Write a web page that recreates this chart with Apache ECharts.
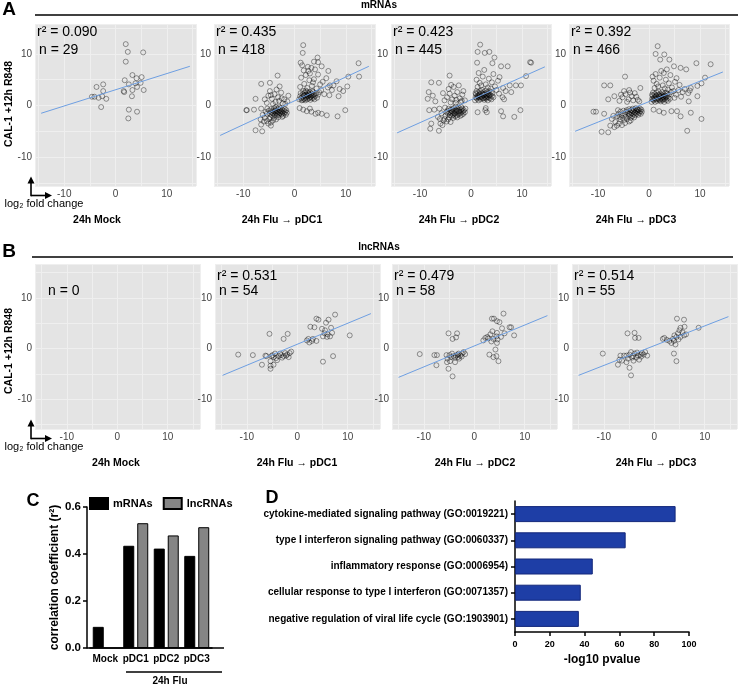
<!DOCTYPE html>
<html>
<head lang="en">
    <meta charset="UTF-8"/>
    <title>CAL-1 vs pDC fold change</title>
    <script src="https://cdn.jsdelivr.net/npm/echarts@6/dist/echarts.min.js"></script>
    <style>
        body { margin: 0; background: #fff; }
        #fig { width: 741px; height: 685px; }
    </style>
</head>
<body>
<div id="fig"></div>
<script>
    // ---- data ----
    var panelTitles = ['24h Mock', '24h Flu \u2192 pDC1', '24h Flu \u2192 pDC2', '24h Flu \u2192 pDC3'];
    var foldTicks = [-10, 0, 10];
    var mrnaR2 = [0.090, 0.435, 0.423, 0.392];
    var mrnaN = [29, 418, 445, 466];
    var lncR2 = [null, 0.531, 0.479, 0.514];
    var lncN = [0, 54, 58, 55];

    var mockMrna = [[2.0,11.9],[2.4,10.4],[5.4,10.3],[2.0,8.5],[3.3,5.9],[4.1,5.3],[5.1,5.5],[1.8,4.9],[2.6,4.1],[3.9,4.3],
        [4.9,4.4],[-2.4,4.1],[-3.7,3.6],[-2.4,2.8],[1.6,2.8],[1.7,2.6],[3.3,3.0],[4.2,3.6],[5.5,3.0],[3.2,1.8],
        [-4.6,1.7],[-4.1,1.7],[-3.3,1.5],[-2.6,1.8],[-1.8,1.3],[-2.8,-0.3],[2.6,-0.8],[4.2,-1.2],[2.5,-2.5]];

    var pdc1Mrna = [
        [1.7,11.7],[1.6,10.2],[4.5,9.3],[4.6,8.4],[1.2,8.3],[12.5,8.2],[3.3,7.3],[5.3,7.6],[6.6,6.7],[2.7,6.7],
        [10.5,5.6],[12.6,5.6],[8.2,4.7],[6.9,3.9],[10.3,3.7],[8.6,1.8],[-6.5,4.2],[-4.8,4.4],[-3.3,5.8],[-7.6,1.3],
        [-9.4,-0.9],[-9.3,-0.9],[-7.9,-0.8],[-6.5,-0.6],[-6.6,-2.7],[-6.5,-3.7],[-7.6,-4.8],[-6.3,-5.0],[-4.6,-3.9],[9.9,-0.9],
        [8.4,-2.1],[6.3,-1.9],[4.1,-1.6],[5.3,-1.6],[3.0,-0.6],[1.7,-0.8],[2.4,-1.1],[3.3,-1.2],[4.6,-1.4],[1.0,-0.5],
        [0.9,1.2],[1.1,1.8],[1.2,2.4],[1.4,1.0],[1.5,1.6],[1.6,2.2],[1.7,2.8],[1.8,1.3],[1.9,1.9],[2.0,2.5],
        [2.1,1.0],[2.2,1.5],[2.3,2.1],[2.4,2.7],[2.5,1.2],[2.6,1.8],[2.7,2.4],[2.8,1.4],[2.9,2.0],[3.0,2.6],
        [3.1,1.1],[3.2,1.7],[3.3,2.3],[3.4,1.4],[3.5,2.0],[3.6,2.6],[3.7,1.5],[3.8,2.1],[3.9,1.2],[4.0,1.8],
        [4.2,2.4],[4.4,1.5],[4.6,2.1],[1.3,1.4],[1.8,2.0],[2.3,1.7],[2.8,2.2],[3.3,1.9],[2.0,1.3],[2.5,2.0],
        [3.0,1.6],[1.6,1.1],[2.2,2.9],[3.5,2.8],[4.8,2.6],
        [1.3,5.4],[2.2,5.9],[3.0,6.2],[3.8,5.1],[4.6,6.0],[5.5,4.6],[6.2,5.3],[1.8,6.8],[2.6,7.5],[4.0,7.0],
        [5.0,4.1],[6.5,3.5],[7.3,3.0],[5.8,2.2],[6.8,2.0],[7.6,3.9],[8.8,3.2],[9.5,2.8],[2.9,4.9],[3.6,4.5],
        [1.1,3.6],[1.9,4.2],[2.5,3.4],[3.4,3.8],[4.3,3.3],[5.2,3.0],[1.5,7.8],[3.8,8.5],
        [-5.0,-1.0],[-4.8,-1.6],[-4.6,-0.7],[-4.5,-1.3],[-4.4,-1.9],[-4.2,-1.0],[-4.1,-1.6],[-4.0,-0.5],[-3.9,-1.2],[-3.8,-1.8],
        [-3.7,-0.8],[-3.6,-1.4],[-3.5,-2.0],[-3.4,-1.0],[-3.3,-1.6],[-3.2,-0.6],[-3.1,-1.2],[-3.0,-1.8],[-2.9,-0.9],[-2.8,-1.5],
        [-2.7,-0.5],[-2.6,-1.1],[-2.5,-1.7],[-2.4,-0.8],[-2.3,-1.4],[-2.2,-2.0],[-2.1,-1.0],[-2.0,-1.5],[-1.9,-0.7],[-1.8,-1.2],
        [-1.7,-1.8],[-1.6,-0.9],[-4.3,-1.4],[-3.8,-1.1],[-3.3,-1.3],[-2.8,-1.2],[-4.7,-2.3],[-4.0,-2.4],[-3.2,-2.3],[-5.3,-0.6],
        [-5.4,-1.6],[-3.0,-0.3],[-2.4,-2.2],[-1.5,-1.4],[-3.6,-0.3],
        [-4.9,-2.6],[-4.2,-2.9],[-5.4,-3.0],[-5.1,-3.5],[-4.6,-3.3],[-5.8,-2.4],[-6.0,-3.1],[-3.6,-2.7],[-5.6,-1.2],[-6.2,-1.8],
        [-5.8,1.2],[-5.1,1.9],[-4.4,1.3],[-3.9,2.2],[-3.2,1.6],[-2.6,2.5],[-2.0,1.2],[-1.4,0.8],[-4.8,2.8],[-3.5,3.1],
        [-2.9,3.7],[-3.7,0.7],[-2.3,0.4],[-5.4,0.5],[-1.2,1.9],[-4.2,0.3],[-3.0,0.9],[-2.5,1.4],[-1.8,0.3],[-4.6,2.0]];

    var pdc2Mrna = [
        [1.8,11.8],[1.3,10.4],[2.7,10.2],[3.6,10.4],[4.6,9.3],[1.2,8.3],[4.2,8.2],[5.9,7.6],[7.2,7.6],[11.6,8.4],
        [11.8,8.3],[10.8,5.7],[9.8,3.9],[8.8,3.9],[7.6,3.9],[6.3,3.4],[6.2,1.6],[6.5,1.2],[-4.2,5.8],[-7.8,4.5],
        [-6.3,4.4],[-8.3,2.6],[-7.5,1.9],[-8.5,1.3],[-7.0,0.8],[-8.2,-0.9],[-7.2,-0.8],[-6.2,-0.6],[-6.5,-2.2],[-6.0,-3.5],
        [-7.8,-3.5],[-8.0,-4.5],[-6.3,-4.9],[-5.2,-2.6],[2.9,-0.5],[2.8,-0.9],[1.3,-1.3],[3.1,-1.3],[5.9,-1.1],[6.3,-2.1],
        [8.5,-2.2],[9.7,-0.9],
        [0.8,1.0],[0.9,1.6],[1.0,2.2],[1.1,2.8],[1.2,1.3],[1.3,1.9],[1.4,2.5],[1.5,1.0],[1.6,1.6],[1.7,2.2],
        [1.8,2.8],[1.9,1.2],[2.0,1.8],[2.1,2.4],[2.2,3.0],[2.3,1.4],[2.4,2.0],[2.5,2.6],[2.6,1.1],[2.7,1.7],
        [2.8,2.3],[2.9,2.9],[3.0,1.3],[3.1,1.9],[3.2,2.5],[3.3,1.0],[3.4,1.6],[3.5,2.2],[3.6,2.8],[3.7,1.4],
        [3.8,2.0],[3.9,2.6],[4.0,1.2],[4.1,1.8],[4.2,2.4],[1.1,1.5],[1.6,2.0],[2.1,1.6],[2.6,2.1],[3.1,1.6],
        [3.6,2.0],[1.4,1.7],[2.3,2.3],[2.9,1.5],[3.3,2.2],[1.8,1.5],[2.5,1.4],[3.0,2.0],[4.4,1.6],[0.9,2.4],
        [1.1,5.0],[1.7,4.4],[2.3,5.6],[2.9,4.1],[3.5,5.2],[4.1,4.5],[4.7,3.7],[5.3,4.8],[1.5,6.3],[2.6,6.9],
        [3.3,3.5],[4.4,6.1],[5.6,5.5],[1.3,3.6],[2.0,3.9],[3.9,3.3],[5.0,3.0],[6.8,2.8],[7.9,2.6],[5.5,2.3],
        [-4.6,-1.0],[-4.5,-1.6],[-4.4,-0.6],[-4.2,-1.3],[-4.1,-1.9],[-4.0,-0.8],[-3.9,-1.4],[-3.8,-2.0],[-3.7,-0.7],[-3.6,-1.2],
        [-3.5,-1.8],[-3.4,-0.5],[-3.3,-1.0],[-3.2,-1.6],[-3.1,-2.1],[-3.0,-0.8],[-2.9,-1.3],[-2.8,-1.9],[-2.7,-0.6],[-2.6,-1.1],
        [-2.5,-1.7],[-2.4,-0.4],[-2.3,-0.9],[-2.2,-1.5],[-2.1,-2.0],[-2.0,-0.8],[-1.9,-1.3],[-1.8,-1.8],[-1.7,-0.6],[-1.6,-1.1],
        [-1.5,-1.6],[-1.4,-0.9],[-1.2,-1.3],[-3.8,-1.1],[-3.3,-1.5],[-2.8,-1.0],[-2.3,-1.2],[-4.3,-2.3],[-3.5,-2.4],[-2.7,-2.3],
        [-1.9,-0.3],[-4.8,-1.3],[-5.0,-2.0],[-1.1,-0.6],[-3.0,-0.2],
        [-5.4,-2.9],[-4.8,-3.1],[-5.6,-3.8],[-4.5,-2.7],[-5.8,-1.5],[-5.1,-0.4],[-6.1,-2.6],[-4.0,-3.2],
        [-5.2,1.0],[-4.7,1.6],[-4.2,2.3],[-3.7,1.2],[-3.2,1.9],[-2.7,2.6],[-2.2,1.4],[-1.7,2.1],[-1.2,1.0],[-4.4,3.2],
        [-3.4,3.6],[-2.4,3.9],[-1.5,2.8],[-4.0,0.6],[-3.0,0.5],[-2.0,0.7],[-5.5,2.4],[-3.9,4.0],[-2.9,1.1],[-1.8,0.9]];

    var pdc3Mrna = [
        [1.7,11.5],[1.3,10.0],[3.0,9.9],[2.2,8.9],[4.0,8.9],[4.9,7.6],[6.2,7.3],[7.3,7.0],[9.3,8.2],[12.1,8.0],
        [11.0,5.4],[10.3,4.3],[9.5,3.8],[8.2,3.4],[9.5,1.8],[7.8,0.8],[-4.7,5.6],[-8.8,3.9],[-7.6,3.9],[-8.0,1.2],
        [-6.8,1.8],[-10.9,-1.2],[-10.4,-1.2],[-8.8,-1.6],[-7.3,-2.6],[-7.6,-3.9],[-9.3,-5.1],[-8.0,-5.2],[-6.3,-3.9],[0.9,-0.8],
        [2.0,-1.1],[2.9,-1.4],[4.4,-1.1],[5.5,-1.1],[6.2,-2.1],[8.2,-1.4],[10.3,-2.6],[7.5,-4.9],[-1.7,3.4],
        [0.5,0.7],[0.6,1.3],[0.7,1.9],[0.8,2.5],[0.9,1.0],[1.0,1.6],[1.1,2.2],[1.2,0.7],[1.3,1.3],[1.4,1.9],
        [1.5,2.5],[1.6,0.9],[1.7,1.5],[1.8,2.1],[1.9,2.7],[2.0,1.1],[2.1,1.7],[2.2,2.3],[2.3,0.8],[2.4,1.4],
        [2.5,2.0],[2.6,2.6],[2.7,1.0],[2.8,1.6],[2.9,2.2],[3.0,0.7],[3.1,1.3],[3.2,1.9],[3.3,2.5],[3.4,1.1],
        [3.5,1.7],[3.6,2.3],[3.7,0.9],[3.8,1.5],[3.9,2.1],[0.8,1.2],[1.3,1.7],[1.8,1.3],[2.3,1.8],[2.8,1.3],
        [3.3,1.7],[1.1,1.4],[2.0,2.0],[2.6,1.2],[3.0,1.9],[1.5,1.2],[2.2,1.1],[2.7,1.7],[4.1,1.3],[0.6,2.1],
        [0.9,4.8],[1.5,4.2],[2.1,5.4],[2.7,3.9],[3.3,5.0],[3.9,4.3],[4.5,3.5],[5.1,4.6],[1.3,6.1],[2.4,6.7],
        [3.1,3.3],[4.2,5.9],[5.4,5.3],[1.1,3.4],[1.8,3.7],[3.7,3.1],[4.8,2.8],[6.6,2.6],[7.7,2.4],[5.3,2.1],
        [2.9,6.3],[0.7,5.6],[3.5,7.0],[6.0,4.0],[7.0,3.2],[8.0,2.9],[4.3,2.6],[5.8,3.0],[6.3,1.7],[5.0,1.5],
        [-6.0,-1.6],[-5.8,-2.2],[-5.6,-1.2],[-5.4,-1.8],[-5.2,-2.4],[-5.0,-1.0],[-4.8,-1.6],[-4.6,-2.2],[-4.4,-0.9],[-4.2,-1.4],
        [-4.0,-2.0],[-3.9,-0.7],[-3.8,-1.2],[-3.7,-1.8],[-3.6,-2.4],[-3.5,-0.9],[-3.4,-1.5],[-3.3,-2.1],[-3.2,-0.6],[-3.1,-1.1],
        [-3.0,-1.7],[-2.9,-0.8],[-2.8,-1.3],[-2.7,-1.9],[-2.6,-0.5],[-2.5,-1.0],[-2.4,-1.6],[-2.3,-0.7],[-2.2,-1.2],[-2.1,-1.8],
        [-2.0,-0.9],[-1.9,-1.4],[-1.8,-0.6],[-1.7,-1.1],[-1.6,-1.6],[-1.5,-0.8],[-4.5,-1.2],[-3.9,-1.6],[-3.3,-1.0],[-2.7,-1.4],
        [-2.2,-0.8],[-4.9,-2.8],[-4.3,-2.6],[-3.6,-2.9],[-5.6,-2.7],[-6.3,-2.1],[-1.4,-1.2],[-2.9,-2.3],
        [-6.6,-3.2],[-5.9,-3.5],[-6.8,-4.2],[-5.3,-3.8],[-4.7,-3.4],[-7.0,-2.0],[-6.1,-0.9],[-3.9,-3.1],
        [-5.8,0.9],[-5.2,1.6],[-4.6,2.2],[-4.0,1.2],[-3.4,1.8],[-2.8,2.4],[-2.2,1.1],[-4.9,2.8],[-3.7,2.5],[-2.5,1.7],
        [-3.1,1.0],[-4.3,0.7],[-5.5,2.1],[-1.9,0.8],[-3.9,3.0]];

    var pdc1Lnc = [
        [-11.7,-1.2],[-8.8,-1.3],[-6.3,-1.4],[-5.5,2.9],[-2.7,1.9],[-1.9,2.9],[-7.0,-3.2],[-5.3,-2.5],[-5.3,-3.4],[-5.3,-4.0],
        [-4.7,-3.2],[-5.1,-1.5],[-4.9,-1.3],[-4.7,-1.7],[-4.0,-2.3],[-3.7,-1.5],[-3.4,-1.0],[-3.0,-1.8],[-2.7,-1.5],[-2.4,-0.9],
        [-2.0,-1.2],[-1.7,-1.7],[-1.5,-0.9],[-4.4,-1.0],[-6.1,-1.5],[1.9,1.6],[2.2,1.9],[2.9,1.5],[2.6,4.3],[3.4,4.2],
        [3.8,5.9],[4.2,5.7],[4.9,3.9],[5.5,3.6],[5.7,5.1],[6.2,5.7],[6.7,4.1],[7.5,6.7],[3.8,1.5],[5.1,2.4],
        [5.9,2.3],[6.5,2.4],[6.9,3.1],[10.4,2.6],[7.1,-1.5],[5.1,-2.6],[6.0,2.8],[-3.2,-1.3],[-2.2,-1.4],[-4.2,-1.9],
        [-1.2,-0.6],[2.4,1.2],[3.1,1.9],[5.4,3.0]];

    var pdc2Lnc = [
        [-10.8,-1.1],[-7.9,-1.3],[-7.4,-1.3],[-7.5,-3.3],[-5.5,-1.3],[-5.3,-2.0],[-5.4,-2.7],[-5.1,-4.0],[-4.3,-5.5],[-5.1,3.0],
        [-3.4,3.0],[-3.6,2.2],[-4.3,1.9],[-4.9,-1.3],[-4.4,-1.0],[-4.1,-1.5],[-3.8,-1.8],[-3.6,-1.4],[-3.2,-1.7],[-3.1,-1.0],
        [-2.8,-1.4],[-2.4,-1.0],[-2.1,-0.7],[-4.8,-2.5],[-3.8,-2.7],[3.5,5.9],[3.9,5.9],[3.0,-1.2],[3.8,-1.7],[2.2,2.1],
        [2.6,2.3],[3.8,1.9],[3.6,3.4],[4.5,1.1],[4.4,2.4],[5.8,6.9],[4.5,5.4],[5.0,5.2],[4.5,3.1],[5.3,2.3],
        [4.6,1.8],[7.0,4.2],[7.3,4.2],[7.9,2.6],[4.2,-0.2],[4.4,-1.5],[4.8,-2.5],[-1.8,-1.1],[-3.0,-2.0],[1.8,1.6],
        [2.8,2.0],[6.0,3.0],[-2.5,-1.6],[3.2,2.8],[5.5,4.0],[-4.6,-1.7],[-3.3,-1.2],[3.4,1.4]];

    var pdc3Lnc = [
        [-10.2,-1.0],[-6.7,-1.4],[-6.9,-2.2],[-7.2,-3.2],[-6.4,-2.4],[-6.0,-1.4],[-5.5,-1.4],[-5.3,3.0],[-3.9,3.1],[-3.8,2.1],
        [-3.1,2.1],[-5.5,-2.7],[-4.9,-3.8],[-4.6,-5.3],[-4.9,-1.2],[-4.6,-0.7],[-4.2,-1.5],[-3.9,-1.0],[-3.6,-1.8],[-3.2,-1.4],
        [-3.0,-2.2],[-2.7,-1.2],[-2.4,-0.9],[-2.1,-1.2],[-1.8,-0.7],[-1.4,-1.4],[-5.2,-2.0],[-4.1,-2.4],[1.7,1.9],[2.0,2.1],
        [3.0,1.5],[3.9,1.5],[4.4,2.3],[4.7,3.0],[5.2,2.3],[5.9,2.6],[6.3,2.8],[4.5,5.9],[5.9,5.7],[5.2,4.1],
        [6.0,4.3],[5.0,3.6],[8.8,4.1],[3.9,-1.0],[4.4,-2.5],[3.4,1.1],[3.7,1.9],[4.2,0.8],[-2.6,-1.6],[-3.4,-0.8],
        [4.0,2.6],[4.8,1.8],[-4.4,-1.8],[2.5,1.7],[5.6,3.2]];

    // end points of the fitted lines
    var mrnaFits = [[[-14.5,-1.5],[14.5,7.6]], [[-14.5,-5.8],[14.5,7.6]], [[-14.5,-5.3],[14.5,7.5]], [[-14.5,-5.0],[14.5,6.5]]];
    var lncFits = [null, [[-14.8,-5.3],[14.6,6.9]], [[-15.0,-5.7],[14.5,6.5]], [[-15.0,-5.3],[14.7,6.3]]];

    // panel C
    var corrCats = ['Mock', 'pDC1', 'pDC2', 'pDC3'];
    var corrMrna = [0.090, 0.435, 0.423, 0.392];
    var corrLnc = [null, 0.531, 0.479, 0.514];

    // panel D
    var goTerms = ['cytokine-mediated signaling pathway (GO:0019221)',
        'type I interferon signaling pathway (GO:0060337)',
        'inflammatory response (GO:0006954)',
        'cellular response to type I interferon (GO:0071357)',
        'negative regulation of viral life cycle (GO:1903901)'];
    var goLog10P = [92.3, 63.6, 44.7, 37.8, 36.7];

    // ---- layout ----
    var FONT = "'Liberation Sans', Arial, sans-serif";
    var rows = [
        {label: 'mRNAs', pts: [mockMrna, pdc1Mrna, pdc2Mrna, pdc3Mrna], fits: mrnaFits, r2: mrnaR2, n: mrnaN,
            top: 24, height: 162, lefts: [35, 214, 391, 569], widths: [161, 161, 160, 160],
            xr: [-15.7, 15.7], yr: [-15.6, 15.8], titleY: 220, titleX: [97, 282, 459, 636], r2Y: 32, nY: 50},
        {label: 'lncRNAs', pts: [[], pdc1Lnc, pdc2Lnc, pdc3Lnc], fits: lncFits, r2: lncR2, n: lncN,
            top: 264, height: 165, lefts: [35, 215, 392, 572], widths: [165, 165, 165, 165],
            xr: [-16.3, 16.4], yr: [-15.9, 16.7], titleY: 463, titleX: [116, 297, 475, 656], r2Y: 276, nY: 291}
    ];

    var grids = [], xAxes = [], yAxes = [], series = [], gfx = [];

    function txt(x, y, s, size, weight, align, rot) {
        gfx.push({
            type: 'text', x: x, y: y, rotation: rot || 0, silent: true, z: 100,
            style: {
                text: s, fill: '#000', fontSize: size, fontWeight: weight || 'normal', fontFamily: FONT,
                align: align || 'center', textAlign: align || 'center',
                verticalAlign: 'middle', textVerticalAlign: 'middle'
            }
        });
    }
    function seg(x1, y1, x2, y2, w) {
        gfx.push({type: 'line', silent: true, z: 100, shape: {x1: x1, y1: y1, x2: x2, y2: y2},
            style: {stroke: '#000', lineWidth: w || 1.5}});
    }
    function tri(pts) {
        gfx.push({type: 'polygon', silent: true, z: 100, shape: {points: pts}, style: {fill: '#000'}});
    }

    rows.forEach(function (row, r) {
        for (var i = 0; i < 4; i++) {
            var gi = grids.length;
            grids.push({left: row.lefts[i], top: row.top, width: row.widths[i], height: row.height,
                show: true, backgroundColor: '#e4e4e4', borderWidth: 0, containLabel: false, outerBoundsMode: 'none'});
            var axisCommon = {
                gridIndex: gi, type: 'value',
                axisLine: {show: false}, axisTick: {show: false},
                splitLine: {show: true, lineStyle: {color: '#efefef', width: 1}},
                axisLabel: {customValues: foldTicks, margin: 3, fontSize: 10, color: '#444', fontFamily: FONT}
            };
            xAxes.push(Object.assign({}, axisCommon, {min: row.xr[0], max: row.xr[1]}));
            yAxes.push(Object.assign({}, axisCommon, {min: row.yr[0], max: row.yr[1]}));
            series.push({
                type: 'scatter', xAxisIndex: gi, yAxisIndex: gi, data: row.pts[i],
                symbol: 'circle', symbolSize: 5, silent: true, z: 2,
                itemStyle: {color: 'rgba(0,0,0,0)', borderColor: 'rgba(0,0,0,0.55)', borderWidth: 0.9}
            });
            if (row.fits[i]) {
                series.push({
                    type: 'line', xAxisIndex: gi, yAxisIndex: gi, data: row.fits[i],
                    showSymbol: false, silent: true, z: 3,
                    lineStyle: {color: '#6e9fe2', width: 1}
                });
            }
            // stats in the panel corner
            var lx = row.lefts[i];
            if (row.r2[i] !== null) {
                txt(lx + 2, row.r2Y, 'r\u00b2 = ' + row.r2[i].toFixed(3), 14, 'normal', 'left');
                txt(lx + 4, row.nY, 'n = ' + row.n[i], 14, 'normal', 'left');
            } else {
                txt(lx + 13, row.nY, 'n = ' + row.n[i], 14, 'normal', 'left');
            }
            txt(row.titleX[i], row.titleY, panelTitles[i], 10.5, 'bold');
        }
        // section heading and rule
        var hy = r === 0 ? 15 : 257;
        seg(r === 0 ? 35 : 32, hy, r === 0 ? 738 : 733, hy, 1.6);
        txt(379, hy - 9.5, row.label, 10, 'bold');
        txt(9, hy - 5, r === 0 ? 'A' : 'B', 19, 'bold');
        // y title
        txt(9, r === 0 ? 104 : 351, 'CAL-1 +12h R848', 10.5, 'bold', 'center', Math.PI / 2);
        // axis arrows glyph
        var cy = row.top + row.height + 9.5;
        seg(31, cy - 13, 31, cy + 0.75, 1.6);
        tri([[27.5, cy - 12], [34.5, cy - 12], [31, cy - 19]]);
        seg(31, cy, 46, cy, 1.6);
        tri([[45, cy - 3.5], [45, cy + 3.5], [52, cy]]);
        txt(44, cy + 8.5, 'log\u2082 fold change', 11, 'normal');
    });

    // ---- panel C ----
    var gC = grids.length;
    grids.push({left: 90, top: 507, width: 122, height: 141, containLabel: false, outerBoundsMode: 'none'});
    xAxes.push({
        gridIndex: gC, type: 'category', data: corrCats,
        axisLine: {lineStyle: {color: '#000', width: 1.5}},
        axisTick: {alignWithLabel: true, length: 4, lineStyle: {color: '#000', width: 1.5}},
        axisLabel: {interval: 0, hideOverlap: false, margin: 6, fontSize: 10, fontWeight: 'bold', color: '#000', fontFamily: FONT}
    });
    yAxes.push({
        gridIndex: gC, type: 'value', min: 0, max: 0.6, interval: 0.2, offset: 3,
        axisLine: {show: true, lineStyle: {color: '#000', width: 1.5}},
        axisTick: {show: true, length: 4, lineStyle: {color: '#000', width: 1.5}},
        axisLabel: {margin: 6, fontSize: 11.5, fontWeight: 'bold', color: '#000', fontFamily: FONT,
            formatter: function (v) { return v.toFixed(1); }},
        splitLine: {show: false},
        name: 'correlation coefficient (r\u00b2)', nameLocation: 'middle', nameGap: 17,
        nameTextStyle: {fontSize: 12, fontWeight: 'bold', color: '#000', fontFamily: FONT}
    });
    series.push({
        name: 'mRNAs', type: 'bar', xAxisIndex: gC, yAxisIndex: gC, data: corrMrna,
        barWidth: 11, barGap: '27%', silent: true,
        itemStyle: {color: '#000', borderColor: '#000', borderWidth: 1}
    });
    series.push({
        name: 'lncRNAs', type: 'bar', xAxisIndex: gC, yAxisIndex: gC, data: corrLnc,
        barWidth: 11, barGap: '27%', silent: true,
        itemStyle: {color: '#858585', borderColor: '#000', borderWidth: 1}
    });
    seg(87, 648, 224, 648, 1.5);
    seg(126, 672, 222, 672, 1.5);
    txt(170, 681, '24h Flu', 10, 'bold');
    txt(33, 501, 'C', 18, 'bold');

    // ---- panel D ----
    var gD = grids.length;
    grids.push({left: 515, top: 501, width: 174, height: 131, containLabel: false, outerBoundsMode: 'none'});
    xAxes.push({
        gridIndex: gD, type: 'value', min: 0, max: 100, interval: 20,
        axisLine: {show: true, lineStyle: {color: '#000', width: 1.5}},
        axisTick: {show: true, length: 4, lineStyle: {color: '#000', width: 1.5}},
        axisLabel: {margin: 8, fontSize: 9, fontWeight: 'bold', color: '#000', fontFamily: FONT},
        splitLine: {show: false},
        name: '-log10 pvalue', nameLocation: 'middle', nameGap: 22,
        nameTextStyle: {fontSize: 12, fontWeight: 'bold', color: '#000', fontFamily: FONT}
    });
    yAxes.push({
        gridIndex: gD, type: 'category', data: goTerms, inverse: true,
        axisLine: {show: true, lineStyle: {color: '#000', width: 1.5}},
        axisTick: {show: true, alignWithLabel: true, length: 4, lineStyle: {color: '#000', width: 1.5}},
        axisLabel: {interval: 0, margin: 7, fontSize: 10, fontWeight: 'bold', color: '#000', fontFamily: FONT}
    });
    series.push({
        type: 'bar', xAxisIndex: gD, yAxisIndex: gD, data: goLog10P, barWidth: 16, silent: true,
        itemStyle: {color: '#1e3ea6', borderColor: '#13277a', borderWidth: 1}
    });
    txt(272, 498, 'D', 18, 'bold');

    var chart = echarts.init(document.getElementById('fig'), null, {renderer: 'canvas'});
    chart.setOption({
        backgroundColor: '#fff',
        animation: false,
        textStyle: {fontFamily: FONT},
        legend: {
            data: ['mRNAs', 'lncRNAs'], left: 84, top: 492, itemWidth: 18, itemHeight: 11, itemGap: 10,
            icon: 'rect', selectedMode: false,
            textStyle: {fontSize: 11, fontWeight: 'bold', color: '#000', fontFamily: FONT}
        },
        grid: grids,
        xAxis: xAxes,
        yAxis: yAxes,
        series: series,
        graphic: {elements: gfx}
    });
</script>
</body>
</html>
